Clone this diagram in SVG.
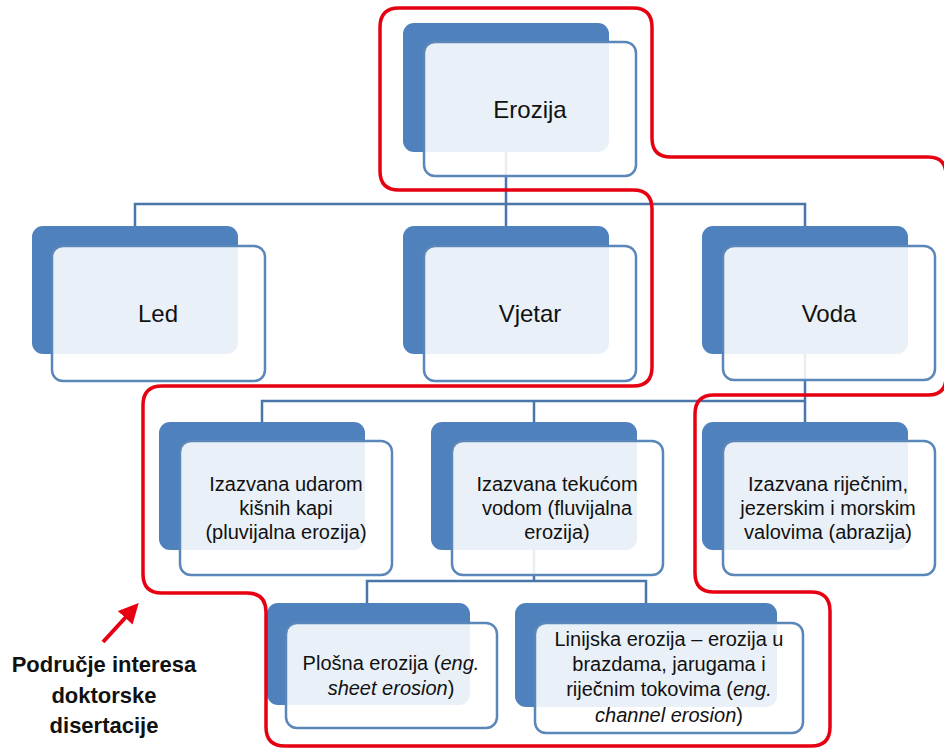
<svg xmlns="http://www.w3.org/2000/svg" width="944" height="749" viewBox="0 0 944 749">
<defs>
<style>
.back{fill:#4f81bd;}
.front{fill:#ffffff;fill-opacity:0.88;stroke:#5b86ba;stroke-width:2.5;}
.conn{fill:none;stroke:#4a76aa;stroke-width:2.5;}
.t{font-family:"Liberation Sans",Arial,sans-serif;fill:#111;text-anchor:middle;}
.big{font-size:24px;}
.mid{font-size:20px;}
.red{fill:none;stroke:#e60012;stroke-width:3.5;stroke-linejoin:round;}
.note{font-family:"Liberation Sans",Arial,sans-serif;font-size:22px;font-weight:bold;fill:#111;text-anchor:middle;}
</style>
<marker id="ah" viewBox="0 0 10 10" refX="8" refY="5" markerWidth="5" markerHeight="5" orient="auto">
<path d="M0,0 L10,5 L0,10 z" fill="#e60012"/>
</marker>
</defs>
<rect width="944" height="749" fill="#ffffff"/>
<g id="connectors">
<path class="conn" d="M506,150 V204 M135,226 V204 H805 V226 M506,204 V226"/>
<path class="conn" d="M805,352 V401 M262,422 V401 H805 V422 M534,401 V422"/>
<path class="conn" d="M534,549 V581 M367,603 V581 H646 V603"/>
</g>
<g id="erozija">
<rect class="back" x="403" y="23" width="206" height="129" rx="11"/>
<rect class="front" x="424" y="42" width="212" height="134" rx="11"/>
<text class="t big" x="530" y="118">Erozija</text>
</g>
<g id="led">
<rect class="back" x="32" y="226" width="206" height="128" rx="11"/>
<rect class="front" x="52" y="246" width="213" height="135" rx="11"/>
<text class="t big" x="158" y="322">Led</text>
</g>
<g id="vjetar">
<rect class="back" x="403" y="226" width="206" height="128" rx="11"/>
<rect class="front" x="424" y="246" width="212" height="135" rx="11"/>
<text class="t big" x="530" y="322">Vjetar</text>
</g>
<g id="voda">
<rect class="back" x="702" y="226" width="206" height="128" rx="11"/>
<rect class="front" x="723" y="246" width="212" height="134" rx="11"/>
<text class="t big" x="829" y="322">Voda</text>
</g>
<g id="pluvijalna">
<rect class="back" x="159" y="422" width="206" height="128" rx="11"/>
<rect class="front" x="180" y="441" width="212" height="134" rx="11"/>
<text class="t mid" x="286" y="491">Izazvana udarom</text>
<text class="t mid" x="286" y="515">kišnih kapi</text>
<text class="t mid" x="286" y="539">(pluvijalna erozija)</text>
</g>
<g id="fluvijalna">
<rect class="back" x="431" y="422" width="206" height="128" rx="11"/>
<rect class="front" x="452" y="441" width="211" height="134" rx="11"/>
<text class="t mid" x="557" y="491">Izazvana tekućom</text>
<text class="t mid" x="557" y="515">vodom (fluvijalna</text>
<text class="t mid" x="557" y="539">erozija)</text>
</g>
<g id="abrazija">
<rect class="back" x="702" y="422" width="206" height="128" rx="11"/>
<rect class="front" x="723" y="441" width="212" height="134" rx="11"/>
<text class="t mid" x="828" y="491">Izazvana riječnim,</text>
<text class="t mid" x="828" y="515">jezerskim i morskim</text>
<text class="t mid" x="828" y="539">valovima (abrazija)</text>
</g>
<g id="plosna">
<rect class="back" x="267" y="603" width="203" height="102" rx="11"/>
<rect class="front" x="286" y="623" width="211" height="105" rx="11"/>
<text class="t mid" x="391" y="670">Plošna erozija (<tspan font-style="italic">eng.</tspan></text>
<text class="t mid" x="391" y="695"><tspan font-style="italic">sheet erosion</tspan>)</text>
</g>
<g id="linijska">
<rect class="back" x="515" y="603" width="262" height="104" rx="11"/>
<rect class="front" x="535" y="623" width="268" height="110" rx="11"/>
<text class="t mid" x="669" y="646">Linijska erozija – erozija u</text>
<text class="t mid" x="669" y="671">brazdama, jarugama i</text>
<text class="t mid" x="669" y="696">riječnim tokovima (<tspan font-style="italic">eng.</tspan></text>
<text class="t mid" x="669" y="722"><tspan font-style="italic">channel erosion</tspan>)</text>
</g>
<g id="interes">
<path class="red" d="M928,157 L671,157 Q652,157 652,138 L652,27 Q652,8 633,8 L399,8 Q380,8 380,27 L380,171 Q380,190 399,190 L633,190 Q652,190 652,209 L652,367 Q652,386 633,386 L162,386 Q143,386 143,405 L143,574 Q143,593 162,593 L247,593 Q266,593 266,612 L266,727 Q266,746 285,746 L811,746 Q830,746 830,727 L830,611 Q830,592 811,592 L714,592 Q695,592 695,573 L695,414 Q695,395 714,395 L928,395 Q946,395 946,377 L946,175 Q946,157 928,157 Z"/>
<line x1="103" y1="642" x2="136" y2="606" stroke="#e60012" stroke-width="4" marker-end="url(#ah)"/>
<text class="note" x="104" y="672">Područje interesa</text>
<text class="note" x="104" y="703">doktorske</text>
<text class="note" x="104" y="733">disertacije</text>
</g>
</svg>
